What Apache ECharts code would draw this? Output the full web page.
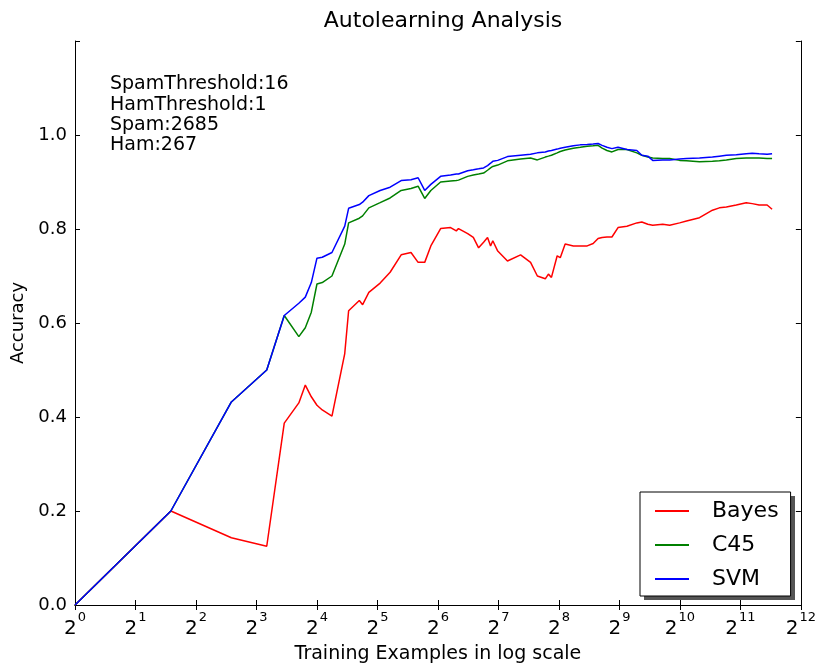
<!DOCTYPE html>
<html>
<head>
<meta charset="utf-8">
<script src="https://cdn.jsdelivr.net/npm/echarts@6/dist/echarts.min.js"></script>
<style>
html,body{margin:0;padding:0;background:#fff;}
#chart{width:819px;height:671px;}
</style>
</head>
<body>
<div id="chart"></div>
<script>
var examples = [1,3,6,9,11,13,14,15,16,17,19,22,23,26,27,29,33,37,42,47,51,55,59,66,74,79,81,90,96,102,108,113,117,120,127,142,165,185,200,219,227,235,251,260,275,302,327,354,379,401,420,444,470,504,558,625,662,709,750,841,911,1021,1105,1282,1487,1610,1744,1954,2190,2345,2539,2782,2945];

var bayes = [0,0.2,0.143,0.125,0.387,0.43,0.468,0.443,0.425,0.415,0.402,0.535,0.626,0.648,0.639,0.665,0.685,0.708,0.745,0.75,0.729,0.729,0.764,0.801,0.803,0.796,0.801,0.79,0.782,0.76,0.772,0.782,0.764,0.775,0.753,0.732,0.745,0.729,0.70,0.694,0.704,0.697,0.743,0.739,0.768,0.764,0.764,0.764,0.769,0.78,0.782,0.783,0.783,0.803,0.806,0.813,0.815,0.81,0.808,0.81,0.808,0.813,0.817,0.824,0.840,0.845,0.847,0.851,0.856,0.854,0.851,0.851,0.842];

var c45 = [0,0.2,0.432,0.50,0.616,0.571,0.59,0.623,0.683,0.686,0.70,0.768,0.813,0.823,0.828,0.845,0.856,0.866,0.882,0.886,0.891,0.865,0.882,0.900,0.902,0.903,0.904,0.912,0.915,0.917,0.919,0.925,0.930,0.933,0.936,0.945,0.949,0.951,0.947,0.953,0.955,0.957,0.962,0.965,0.968,0.972,0.974,0.976,0.977,0.978,0.972,0.967,0.964,0.969,0.969,0.962,0.957,0.953,0.951,0.950,0.950,0.946,0.945,0.943,0.944,0.945,0.947,0.950,0.951,0.951,0.951,0.950,0.950];

var svm = [0,0.2,0.432,0.50,0.616,0.642,0.655,0.686,0.738,0.74,0.75,0.806,0.844,0.852,0.857,0.871,0.882,0.889,0.903,0.905,0.909,0.882,0.895,0.912,0.915,0.917,0.917,0.924,0.926,0.928,0.930,0.935,0.940,0.944,0.946,0.954,0.957,0.959,0.962,0.964,0.966,0.967,0.970,0.972,0.974,0.977,0.979,0.980,0.981,0.982,0.978,0.974,0.971,0.974,0.969,0.967,0.957,0.955,0.946,0.947,0.947,0.949,0.950,0.951,0.953,0.955,0.957,0.958,0.960,0.961,0.960,0.959,0.960];

var seriesNames = ['Bayes','C45','SVM'];
var seriesColors = ['#ff0000','#008000','#0000ff'];
var annotationLines = ['SpamThreshold:16','HamThreshold:1','Spam:2685','Ham:267'];
var yTickLabels = ['0.0','0.2','0.4','0.6','0.8','1.0'];

function pairs(ys){ return examples.map(function(x,i){ return [x, ys[i]]; }); }

var FONT = 'DejaVu Sans';
var chart = echarts.init(document.getElementById('chart'), null, {renderer:'canvas'});

var axisLineStyle = {color:'#000', width:1};
var option = {
  backgroundColor:'#fff',
  animation:false,
  title:{
    text:'Autolearning Analysis',
    left:438, top:5, textAlign:'center',
    textStyle:{fontFamily:FONT, fontSize:22, fontWeight:'normal', color:'#000'}
  },
  grid:{left:75, right:18, top:41, bottom:66, containLabel:false},
  legend:{
    data:seriesNames,
    orient:'vertical',
    left:640, top:492,
    width:151,
    z:10,
    backgroundColor:'#fff',
    borderColor:'#000', borderWidth:1,
    padding:[8,12,6,15],
    itemWidth:34, itemHeight:2, itemGap:12,
    icon:'rect',
    textStyle:{fontFamily:FONT, fontSize:22, lineHeight:22, color:'#000', padding:[0,0,0,18]}
  },
  graphic:[{
    type:'rect', z:9, silent:true,
    shape:{x:644, y:496, width:151, height:104},
    style:{fill:'#555'}
  },{
    type:'text', left:110, top:74,
    style:{
      text:annotationLines.join('\n'),
      fontFamily:FONT, fontSize:19, lineHeight:20.4, fill:'#000'
    }
  }],
  xAxis:[{
    type:'log', logBase:2, min:1, max:4096, interval:1,
    name:'Training Examples in log scale', nameLocation:'middle', nameGap:40,
    nameTextStyle:{fontFamily:FONT, fontSize:19, color:'#000'},
    axisLine:{show:true, lineStyle:axisLineStyle},
    axisTick:{show:true, inside:true, length:5, lineStyle:axisLineStyle},
    splitLine:{show:false},
    minorTick:{show:false},
    axisLabel:{
      margin:6,
      formatter:function(v){ var e = Math.round(Math.log(v)/Math.log(2)); return '{b|2}{s|' + e + '}'; },
      rich:{
        b:{fontFamily:FONT, fontSize:20, color:'#000', verticalAlign:'bottom', lineHeight:28},
        s:{fontFamily:FONT, fontSize:13, color:'#000', verticalAlign:'top', lineHeight:28, padding:[0,0,0,1]}
      }
    }
  },{
    type:'log', logBase:2, min:1, max:4096, interval:1, position:'top',
    axisLine:{show:true, lineStyle:axisLineStyle},
    axisTick:{show:true, inside:true, length:5, lineStyle:axisLineStyle},
    axisLabel:{show:false}, splitLine:{show:false}
  }],
  yAxis:[{
    type:'value', min:0, max:1.2, interval:0.2,
    name:'Accuracy', nameLocation:'middle', nameGap:44,
    nameTextStyle:{fontFamily:FONT, fontSize:18, color:'#000'},
    axisLine:{show:true, lineStyle:axisLineStyle},
    axisTick:{show:true, inside:true, length:5, lineStyle:axisLineStyle},
    splitLine:{show:false},
    axisLabel:{
      margin:8, fontFamily:FONT, fontSize:18, color:'#000',
      formatter:function(v){ var i = Math.round(v/0.2); return i < yTickLabels.length ? yTickLabels[i] : ''; }
    }
  },{
    type:'value', min:0, max:1.2, interval:0.2, position:'right',
    axisLine:{show:true, lineStyle:axisLineStyle},
    axisTick:{show:true, inside:true, length:5, lineStyle:axisLineStyle},
    axisLabel:{show:false}, splitLine:{show:false}
  }],
  series:[
    {name:seriesNames[0], type:'line', data:pairs(bayes), xAxisIndex:0, yAxisIndex:0, showSymbol:false, symbol:'none', lineStyle:{color:seriesColors[0], width:1.5}, itemStyle:{color:seriesColors[0]}},
    {name:seriesNames[1], type:'line', data:pairs(c45), xAxisIndex:0, yAxisIndex:0, showSymbol:false, symbol:'none', lineStyle:{color:seriesColors[1], width:1.5}, itemStyle:{color:seriesColors[1]}},
    {name:seriesNames[2], type:'line', data:pairs(svm), xAxisIndex:0, yAxisIndex:0, showSymbol:false, symbol:'none', lineStyle:{color:seriesColors[2], width:1.5}, itemStyle:{color:seriesColors[2]}}
  ]
};
chart.setOption(option);
</script>
</body>
</html>
